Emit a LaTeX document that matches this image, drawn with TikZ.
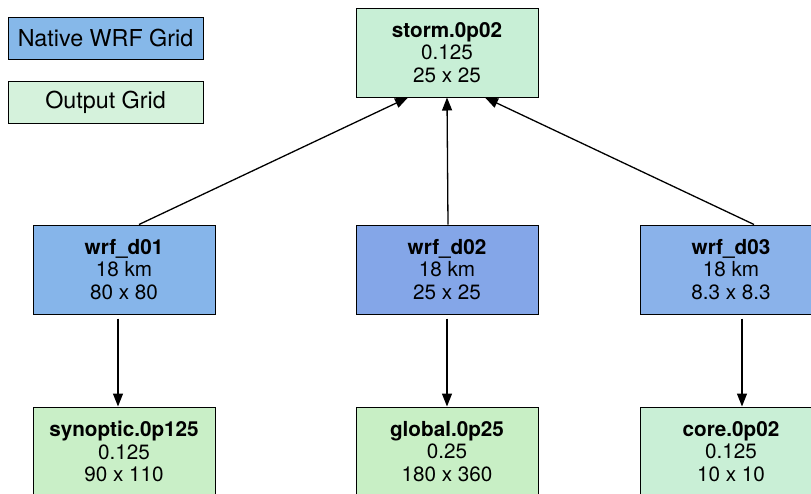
\documentclass[tikz,border=0pt]{standalone}
\usepackage{fontspec}
\setmainfont{TeX Gyre Heros}
\usepackage{tikz}
\usetikzlibrary{arrows.meta, positioning}

\definecolor{nativeblue}{RGB}{134,184,233}
\definecolor{outgreen}{RGB}{213,242,220}
\definecolor{stormgreen}{RGB}{200,239,214}
\definecolor{dOneblue}{RGB}{134,181,234}
\definecolor{dTwoblue}{RGB}{132,166,232}
\definecolor{dThreeblue}{RGB}{138,178,234}
\definecolor{synopgreen}{RGB}{201,239,199}
\definecolor{globgreen}{RGB}{200,239,197}
\definecolor{coregreen}{RGB}{201,239,214}

\begin{document}
\begin{tikzpicture}[x=1pt, y=1pt,
    grid/.style={rectangle, draw=black, line width=1pt, minimum width=182pt, minimum height=89pt,
                 align=center, font=\fontsize{20.7}{22.7}\selectfont},
    legend/.style={rectangle, draw=black, line width=1pt, minimum width=195pt, minimum height=42pt,
                   font=\fontsize{23.3}{25}\selectfont},
    link/.style={line width=1.3pt, -{Triangle[length=13pt, width=10pt]}}]
    \useasboundingbox (0,0) rectangle (811,-493);
    % legend
    \node[legend, fill=nativeblue] (native) at (105.5,-38) {Native WRF Grid};
    \node[legend, fill=outgreen] (output) [below = 21pt of native] {Output Grid};
    % grids
    \node[grid, fill=stormgreen] (storm) at (447,-52.5) {\textbf{storm.0p02}\\0.125\\25 x 25};
    \node[grid, fill=dTwoblue] (d02) [below = 127pt of storm] {\textbf{wrf\_d02}\\18 km\\25 x 25};
    \node[grid, fill=dOneblue] (d01) [left = 140pt of d02] {\textbf{wrf\_d01}\\18 km\\80 x 80};
    \node[grid, fill=dThreeblue] (d03) [right = 101pt of d02] {\textbf{wrf\_d03}\\18 km\\8.3 x 8.3};
    \node[grid, fill=synopgreen] (synoptic) [below = 92pt of d01] {\textbf{synoptic.0p125}\\0.125\\90 x 110};
    \node[grid, fill=globgreen] (global) [below = 92pt of d02] {\textbf{global.0p25}\\0.25\\180 x 360};
    \node[grid, fill=coregreen] (core) [below = 92pt of d03] {\textbf{core.0p02}\\0.125\\10 x 10};

    \draw[link] ([xshift=15pt]d01.north) -- ([xshift=-39pt]storm.south);
    \draw[link] ([xshift=1pt]d02.north) -- (storm.south);
    \draw[link] ([xshift=23pt]d03.north) -- ([xshift=38pt]storm.south);
    \draw[link] ([xshift=-6pt,yshift=-4pt]d01.south) -- ([xshift=-6pt]synoptic.north);
    \draw[link] ([yshift=-4pt]d02.south) -- (global.north);
    \draw[link] ([xshift=11pt,yshift=-4pt]d03.south) -- ([xshift=11pt]core.north);
\end{tikzpicture}
\end{document}
